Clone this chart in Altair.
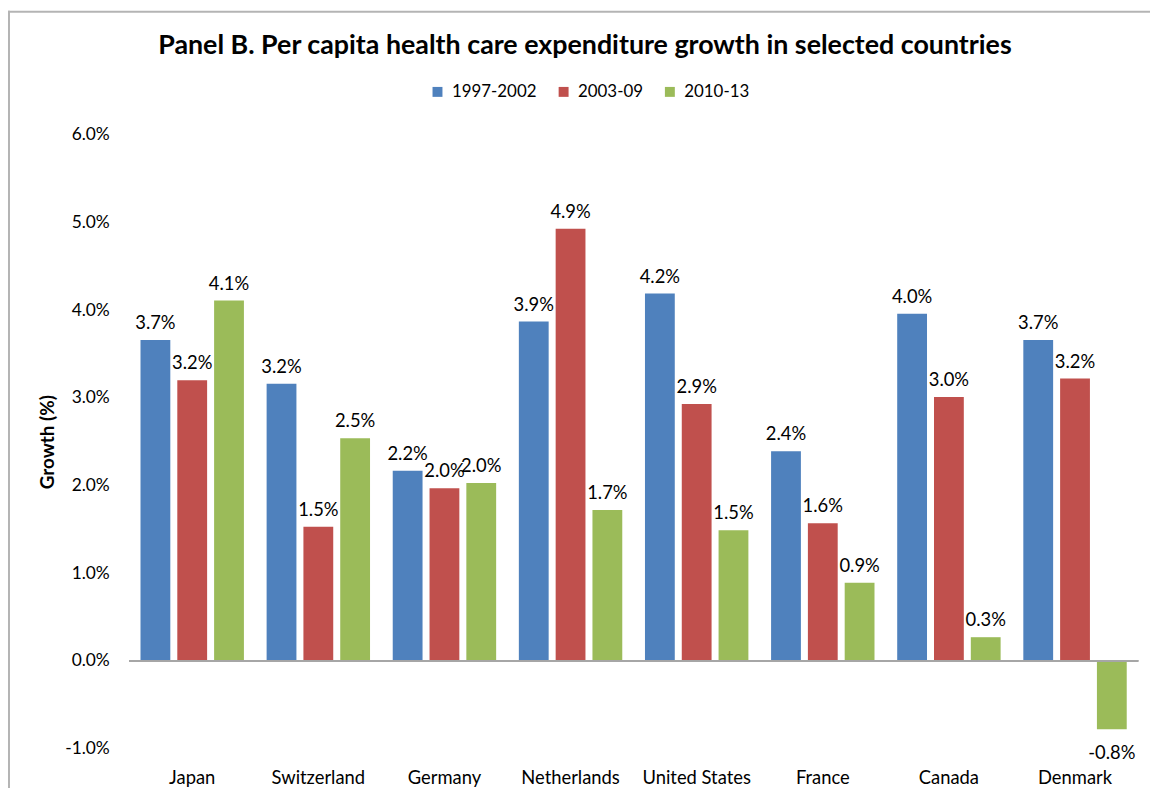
import altair as alt
import pandas as pd

countries = ["Japan", "Switzerland", "Germany", "Netherlands",
             "United States", "France", "Canada", "Denmark"]
periods = ["1997-2002", "2003-09", "2010-13"]
g_1997_2002 = [3.66, 3.16, 2.17, 3.87, 4.19, 2.39, 3.96, 3.66]
g_2003_09 = [3.20, 1.53, 1.97, 4.93, 2.93, 1.57, 3.01, 3.22]
g_2010_13 = [4.11, 2.54, 2.03, 1.72, 1.49, 0.89, 0.27, -0.78]
colors = ["#4F81BD", "#C0504D", "#9BBB59"]
y_ticks = [-1, 0, 1, 2, 3, 4, 5, 6]

rows = []
for p, vals in zip(periods, [g_1997_2002, g_2003_09, g_2010_13]):
    for c, v in zip(countries, vals):
        rows.append({"country": c, "period": p, "growth": v, "label": f"{v:.1f}%"})
df = pd.DataFrame(rows)

FONT = "Lato"

x = alt.X("country:N", sort=countries,
          scale=alt.Scale(paddingInner=0.18, paddingOuter=0.09),
          axis=alt.Axis(title=None, labelAngle=0, domain=False, ticks=False,
                        labelFontSize=18.5, labelPadding=20, labelColor="#000000",
                        labelFont=FONT))
xo = alt.XOffset("period:N", sort=periods,
                 scale=alt.Scale(paddingInner=0.19, paddingOuter=0))
y = alt.Y("growth:Q", scale=alt.Scale(domain=[-1, 6], nice=False),
          axis=alt.Axis(values=y_ticks,
                        labelExpr="(datum.value < 0 ? '-' : '') + format(abs(datum.value), '.1f') + '%'",
                        title="Growth (%)", titleFont=FONT, titleFontSize=19,
                        titleFontWeight="bold", titleColor="#000000",
                        titlePadding=7,
                        labelFont=FONT, labelFontSize=17.5, labelColor="#000000",
                        labelPadding=20, domain=False, ticks=False, grid=False))
color = alt.Color("period:N", sort=periods,
                  scale=alt.Scale(domain=periods, range=colors),
                  legend=alt.Legend(title=None, orient="none", direction="horizontal",
                                    legendX=302, legendY=-52,
                                    symbolType="square", symbolSize=100,
                                    symbolStrokeWidth=0,
                                    labelFont=FONT, labelFontSize=17,
                                    labelColor="#000000", labelOffset=6,
                                    columnPadding=18))

base = alt.Chart(df)

bars = base.mark_bar().encode(x=x, xOffset=xo, y=y, color=color)

pos_labels = base.transform_filter("datum.growth >= 0").mark_text(
    baseline="bottom", dy=-7, font=FONT, fontSize=18.5, color="#000000"
).encode(x=x, xOffset=xo, y=y, text="label:N")

neg_labels = base.transform_filter("datum.growth < 0").mark_text(
    baseline="top", dy=15, font=FONT, fontSize=18.5, color="#000000"
).encode(x=x, xOffset=xo, y=y, text="label:N")

zero = base.mark_rule(color="#A6A6A6", strokeWidth=1.5).encode(y=alt.datum(0))

# chart-area frame (top and left edges, as in the reference crop)
frame_src = alt.Chart(pd.DataFrame({"k": [0]}))
frame_left = frame_src.mark_rule(color="#B4B4B4", strokeWidth=2).encode(
    x=alt.value(-121), y=alt.value(-125), y2=alt.value(660))
frame_top = frame_src.mark_rule(color="#B4B4B4", strokeWidth=2).encode(
    x=alt.value(-122), x2=alt.value(1030), y=alt.value(-124))

chart = alt.layer(frame_left, frame_top, bars, zero, pos_labels, neg_labels).properties(
    width=1016, height=618,
    title=alt.TitleParams(
        "Panel B. Per capita health care expenditure growth in selected countries",
        font=FONT, fontSize=27, fontWeight="bold", color="#000000",
        anchor="middle", frame="group", dx=-49, offset=-51),
    autosize=alt.AutoSizeParams(type="none"),
    padding={"left": 122, "top": 125, "right": 12, "bottom": 37},
).configure(background="white").configure_view(stroke=None)

chart.save("out.html", embed_options={"renderer": "svg", "actions": False})
